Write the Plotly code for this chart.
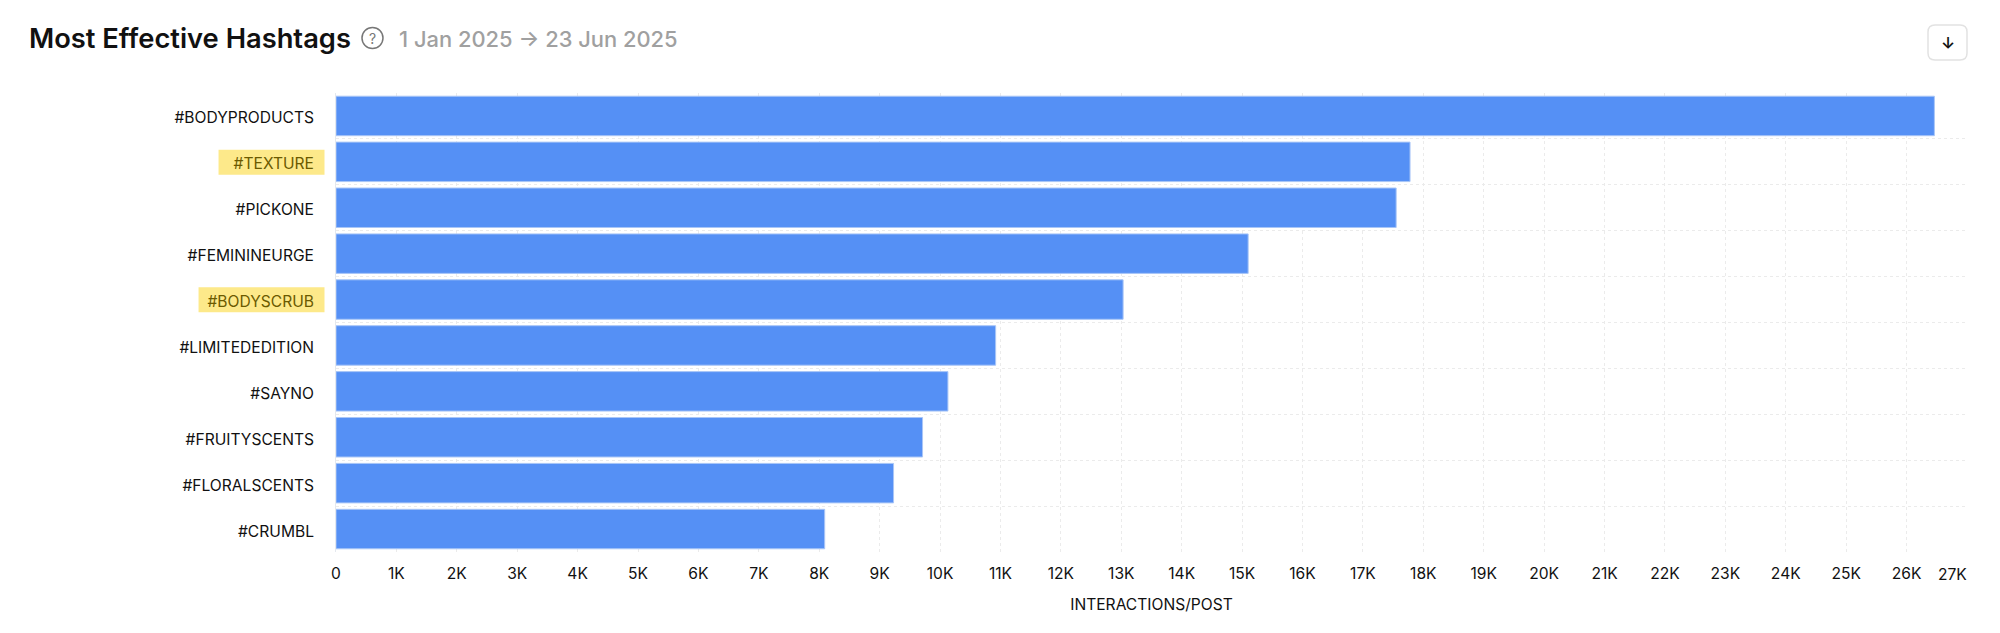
import plotly.graph_objects as go

categories = ["#BODYPRODUCTS", "#TEXTURE", "#PICKONE", "#FEMININEURGE", "#BODYSCRUB",
              "#LIMITEDEDITION", "#SAYNO", "#FRUITYSCENTS", "#FLORALSCENTS", "#CRUMBL"]
values = [26460, 17780, 17550, 15100, 13030, 10920, 10130, 9710, 9230, 8090]
highlighted = ["#TEXTURE", "#BODYSCRUB"]
x_ticks = list(range(0, 27000, 1000))
x_tick_labels = ["0"] + [f"{i}K" for i in range(1, 27)]
title = "Most Effective Hashtags"
date_range = "1 Jan 2025 → 23 Jun 2025"
x_title = "INTERACTIONS/POST"

PAGE = 8  # default page margin around the plot
W, H = 2000 - PAGE, 633 - PAGE
L, R, T, B = 335.5, 1967, 93, 552
FONT = "Inter"
def px(x): return (x - L) / (R - L)
def py(y): return (B - y) / (B - T)

y_labels = [f'<span style="color:#6b5a00">{c}</span>' if c in highlighted else c for c in categories]
hl_left = {"#TEXTURE": 218, "#BODYSCRUB": 198}

shapes = []
for c, left in hl_left.items():
    i = categories.index(c)
    cy = T + (i + 0.5) * (B - T) / 10 + 0.3
    shapes.append(dict(type="rect", xref="paper", yref="paper", x0=px(left), x1=px(324),
                       y0=py(cy - 12.5), y1=py(cy + 12.5), fillcolor="#fde98a", line_width=0, layer="below"))
# help icon
shapes.append(dict(type="circle", xref="paper", yref="paper", x0=px(361.5), x1=px(382.5), y0=py(27.5), y1=py(48.5),
                   line=dict(color="#777777", width=1.5)))
# download button
x0, x1, y0, y1, r = 1928, 1967, 25, 60, 7
path = (f"M {px(x0+r)} {py(y0)} L {px(x1-r)} {py(y0)} Q {px(x1)} {py(y0)} {px(x1)} {py(y0+r)} "
        f"L {px(x1)} {py(y1-r)} Q {px(x1)} {py(y1)} {px(x1-r)} {py(y1)} L {px(x0+r)} {py(y1)} "
        f"Q {px(x0)} {py(y1)} {px(x0)} {py(y1-r)} L {px(x0)} {py(y0+r)} Q {px(x0)} {py(y0)} {px(x0+r)} {py(y0)} Z")
shapes.append(dict(type="path", xref="paper", yref="paper", path=path, line=dict(color="#e2e2e2", width=1.5)))

def note(text, x, y, size, color, anchor="left", weight=400):
    return dict(text=text, xref="paper", yref="paper", x=px(x), y=py(y), xanchor=anchor, yanchor="middle",
                showarrow=False, font=dict(family=FONT, size=size, color=color, weight=weight))

TICK = 15.6
annotations = [
    note(title, 26.5, 38, 27.3, "#111111", weight=600),
    note("?", 372, 38, 14, "#777777", "center"),
    note(date_range, 397, 39, 21.9, "#a0a0a0", weight=500),
    note("↓", 1947.5, 43, 16, "#111111", "center", 600),
    note("27K", 1969, 574, TICK, "#111111", "right"),
]

fig = go.Figure()
fig.add_trace(go.Bar(x=values, y=categories, orientation="h", width=0.86,
                     marker=dict(color="#5590f5", line=dict(color="#a9c6f7", width=1))))
# Transparent twin that carries the category labels on a slightly shifted axis
fig.add_trace(go.Bar(x=values, y=categories, orientation="h", yaxis="y2", width=0.86,
                     marker=dict(color="rgba(0,0,0,0)", line=dict(width=0)), hoverinfo="skip"))
fig.update_layout(
    width=W, height=H, barmode="overlay",
    margin=dict(l=L - PAGE, r=W - (R - PAGE), t=T - PAGE, b=H - (B - PAGE), autoexpand=False),
    paper_bgcolor="white", plot_bgcolor="white", showlegend=False,
    font=dict(family=FONT, size=TICK, color="#111111"),
    shapes=shapes, annotations=annotations,
    xaxis=dict(range=[0, 27000], tickmode="array", tickvals=x_ticks + [27000], ticktext=x_tick_labels + [""],
               showgrid=True, gridcolor="#ebebeb", griddash="dot", gridwidth=1, zeroline=False,
               ticks="outside", ticklen=7.5, tickcolor="rgba(0,0,0,0)", tickangle=0,
               title=dict(text=x_title, standoff=16, font=dict(size=TICK))),
    yaxis=dict(type="category", categoryorder="array", categoryarray=categories, autorange=False,
               range=[9.5, -0.5], tickson="boundaries", showticklabels=False,
               showgrid=True, gridcolor="#ebebeb", griddash="dot", gridwidth=1,
               ticks="", zeroline=False, showline=True, linecolor="#e4e8ee", linewidth=1),
    yaxis2=dict(type="category", categoryorder="array", categoryarray=categories, autorange=False,
                overlaying="y", side="left", anchor="x", range=[9.455, -0.545],
                tickmode="array", tickvals=categories, ticktext=y_labels,
                showgrid=False, zeroline=False, ticks="", ticklabelstandoff=21),
)
fig.write_html("out.html")
